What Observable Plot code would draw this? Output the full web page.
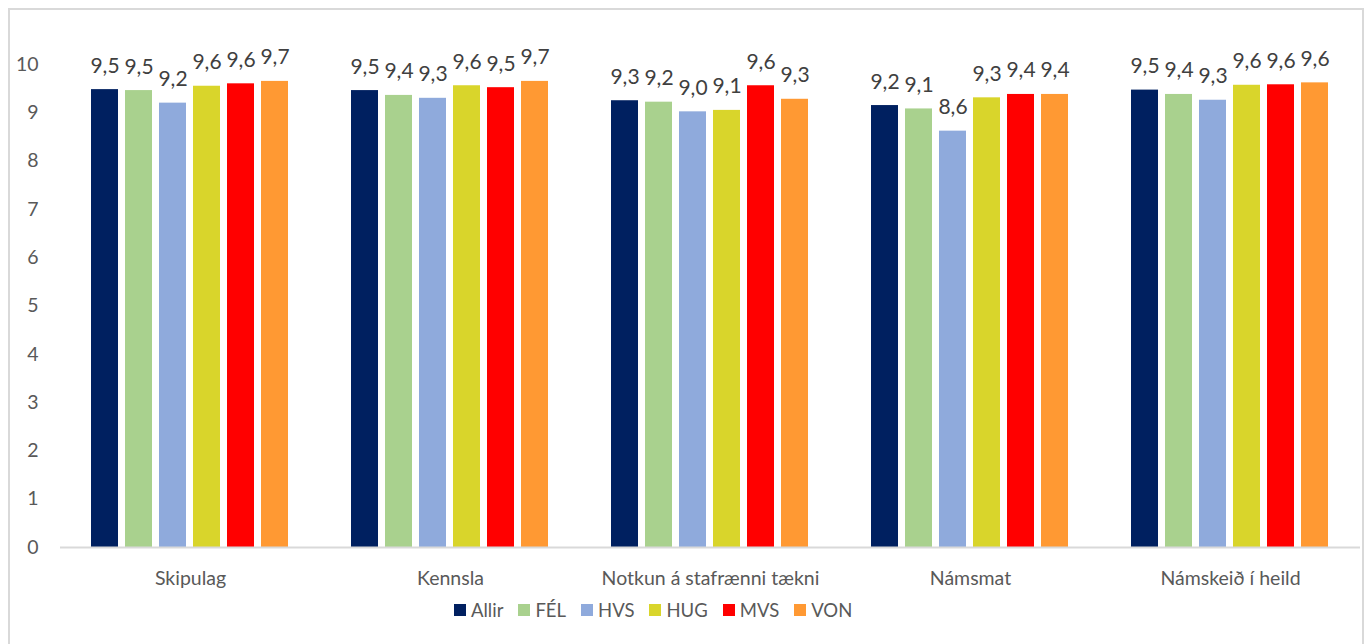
<!DOCTYPE html>
<html><head><meta charset="utf-8">
<script src="https://cdn.jsdelivr.net/npm/d3@7"></script>
<script src="https://cdn.jsdelivr.net/npm/@observablehq/plot@0.6"></script>
<style>
html,body{margin:0;padding:0;background:#fff;overflow:hidden;width:1369px;height:644px;position:relative}
#frame{position:absolute;left:8px;top:8px;width:1356px;height:700px;border:2px solid #d9d9d9;box-sizing:border-box}
#chart{position:absolute;left:0;top:0}
#legend{position:absolute;left:454px;top:598px;height:24px;display:flex;align-items:center;font:18.5px Lato,sans-serif;color:#595959;white-space:nowrap}
#legend .item{display:flex;align-items:center;margin-right:15px}
#legend .sw{width:12px;height:12px;margin-right:5px;display:inline-block}
</style></head>
<body>
<div id="frame"></div>
<div id="chart"></div>
<div id="legend"></div>
<script>
const categories = ["Skipulag", "Kennsla", "Notkun á stafrænni tækni", "Námsmat", "Námskeið í heild"];
const series = ["Allir", "FÉL", "HVS", "HUG", "MVS", "VON"];
const colors = ["#002060", "#a9d18e", "#8faadc", "#d9d52b", "#ff0000", "#ff9933"];
const allir = [9.48, 9.46, 9.25, 9.15, 9.47];
const fel   = [9.46, 9.36, 9.22, 9.08, 9.38];
const hvs   = [9.20, 9.30, 9.02, 8.62, 9.26];
const hug   = [9.55, 9.56, 9.05, 9.31, 9.57];
const mvs   = [9.60, 9.52, 9.56, 9.38, 9.58];
const von   = [9.65, 9.65, 9.28, 9.38, 9.62];
const yTicks = [0, 1, 2, 3, 4, 5, 6, 7, 8, 9, 10];

const seriesValues = [allir, fel, hvs, hug, mvs, von];
const data = [];
categories.forEach((c, i) => {
  series.forEach((s, j) => data.push({cat: c, s, v: seriesValues[j][i]}));
});
const fmt = v => v.toFixed(1).replace(".", ",");

const plot = Plot.plot({
  width: 1369,
  height: 596,
  marginTop: 64,
  marginBottom: 49,
  marginLeft: 60,
  marginRight: 9,
  style: {fontFamily: "Lato, sans-serif", color: "#595959", fontSize: "19.5px", background: "transparent"},
  fx: {domain: categories, padding: 0, label: null},
  x: {domain: series, paddingInner: 0.2, paddingOuter: 0.868, axis: null},
  y: {domain: [0, 10], label: null},
  color: {domain: series, range: colors},
  marks: [
    Plot.barY(data, {fx: "cat", x: "s", y: "v", fill: "s"}),
    Plot.ruleY([0], {stroke: "#d9d9d9", strokeWidth: 2}),
    Plot.text(data, {fx: "cat", x: "s", y: "v", text: d => fmt(d.v), lineAnchor: "bottom", dy: -17, fontSize: 21, fill: "#404040"}),
    Plot.axisY({ticks: yTicks, tickSize: 0, tickPadding: 22, fontSize: 19.5, label: null, tickFormat: d => String(d)}),
    Plot.axisFx({anchor: "bottom", tickSize: 0, tickPadding: 24, fontSize: 19.5, fontWeight: "normal", label: null})
  ]
});
document.getElementById("chart").appendChild(plot);

const legend = document.getElementById("legend");
series.forEach((s, i) => {
  const it = document.createElement("div");
  it.className = "item";
  const sw = document.createElement("span");
  sw.className = "sw";
  sw.style.background = colors[i];
  it.appendChild(sw);
  it.appendChild(document.createTextNode(s));
  legend.appendChild(it);
});
</script>
</body></html>
